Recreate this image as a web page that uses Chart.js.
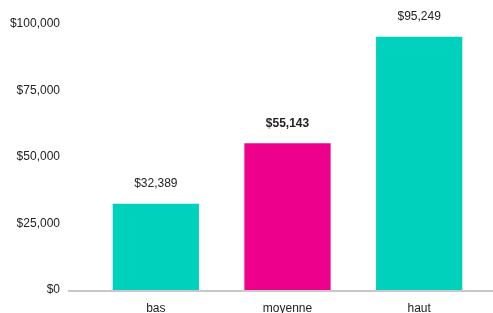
<!DOCTYPE html>
<html><head><meta charset="utf-8">
<script src="https://cdn.jsdelivr.net/npm/chart.js@4"></script>
<style>html,body{margin:0;padding:0;background:#fff;overflow:hidden}canvas{display:block}</style>
</head><body><canvas id="c" width="493" height="313"></canvas>
<script>
const categories = ['bas', 'moyenne', 'haut'];
const salaries = [32389, 55143, 95249];
const barColors = ['#00D1BC', '#EC008C', '#00D1BC'];
const boldIndex = [false, true, false];
const yTicks = [0, 25000, 50000, 75000, 100000];

const fmt = v => '$' + v.toLocaleString('en-US');
const FONT = '"Liberation Sans", Arial, sans-serif';

const labelPlugin = {
  id: 'labels',
  afterDatasetsDraw(chart) {
    const ctx = chart.ctx;
    const meta = chart.getDatasetMeta(0);
    ctx.save();
    ctx.textAlign = 'center';
    ctx.textBaseline = 'middle';
    ctx.fillStyle = '#222';
    meta.data.forEach((bar, i) => {
      ctx.font = (boldIndex[i] ? 'bold ' : '') + '12px ' + FONT;
      ctx.fillText(fmt(salaries[i]), bar.x, bar.y - 20);
    });
    ctx.restore();
  },
  beforeDatasetsDraw(chart) {
    const ctx = chart.ctx;
    const y = chart.scales.y.getPixelForValue(0);
    ctx.save();
    ctx.strokeStyle = '#c8c8c8';
    ctx.lineWidth = 2;
    ctx.beginPath();
    ctx.moveTo(68, y + 1);
    ctx.lineTo(chart.width, y + 1);
    ctx.stroke();
    ctx.restore();
  }
};

new Chart(document.getElementById('c'), {
  type: 'bar',
  data: {
    labels: categories,
    datasets: [{ data: salaries, backgroundColor: barColors, borderWidth: 0,
      categoryPercentage: 1, barPercentage: 0.655 }]
  },
  options: {
    responsive: false, animation: false, devicePixelRatio: 1,
    layout: { padding: { top: 24, right: 8, left: 0, bottom: 0 } },
    plugins: { legend: { display: false }, tooltip: { enabled: false } },
    scales: {
      x: {
        grid: { display: false }, border: { display: false },
        ticks: { color: '#222', font: { family: FONT, size: 12 }, padding: 3 },
        afterFit(s) { s.height = 23; }
      },
      y: {
        min: 0, max: 100000,
        grid: { display: false, tickLength: 30 }, border: { display: false },
        afterBuildTicks(s) { s.ticks = yTicks.map(v => ({ value: v })); },
        ticks: { color: '#222', font: { family: FONT, size: 12 }, padding: 0,
          callback: v => fmt(v) },
        afterFit(s) { s.width = 90; }
      }
    }
  },
  plugins: [labelPlugin]
});
</script></body></html>
